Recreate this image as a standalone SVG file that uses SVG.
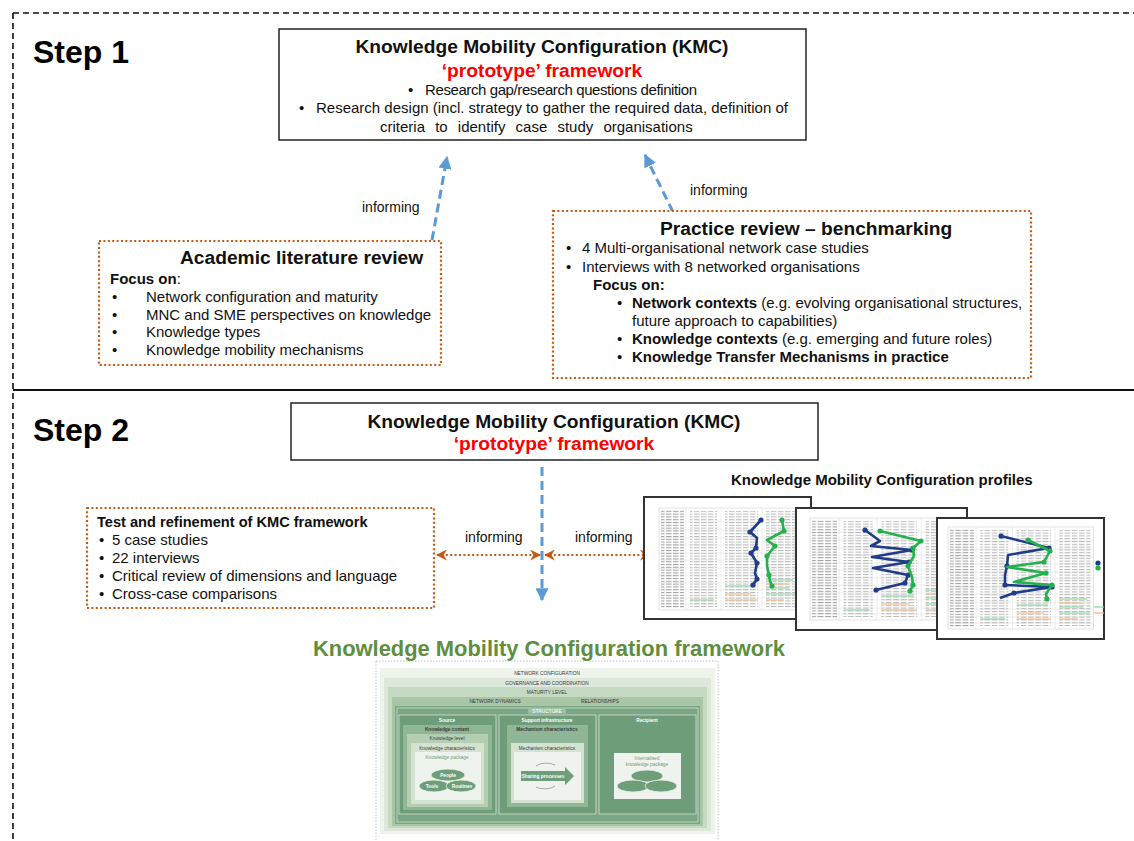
<svg xmlns="http://www.w3.org/2000/svg" xmlns:xlink="http://www.w3.org/1999/xlink" width="1134" height="841" viewBox="0 0 1134 841">
<style>
text{font-family:"Liberation Sans",Arial,sans-serif;fill:#111}
.b{font-weight:bold}
.s14{font-size:14px}
.s15{font-size:15px}
.h18{font-size:19.2px;font-weight:bold}
.red{fill:#FF0000}
.step{font-size:32px;font-weight:bold;fill:#000}
.box{fill:#fff;stroke:#222;stroke-width:1.5}
.obox{fill:#fff;stroke:#C65911;stroke-width:2.2;stroke-dasharray:2 2.4}
.blue{fill:none;stroke:#5B9BD5;stroke-width:3;stroke-dasharray:9 5}
.orng{fill:none;stroke:#C65911;stroke-width:2.2;stroke-dasharray:2 2.4}
.fw{font-size:4.8px;fill:#3a3a3a}
.fww{font-size:4.8px;fill:#fff}
.fwg{font-size:4.8px;fill:#6f9b7a}
.prof{fill:#fff;stroke:#333;stroke-width:2}
.bl{fill:none;stroke:#1F3C88;stroke-width:2.6;stroke-linejoin:round}
.gr{fill:none;stroke:#22B14C;stroke-width:2.6;stroke-linejoin:round}
</style>
<defs>
<marker id="ab" viewBox="0 0 10 10" refX="9" refY="5" markerWidth="13" markerHeight="13" markerUnits="userSpaceOnUse" orient="auto"><path d="M0,0 L10,5 L0,10 z" fill="#5B9BD5"/></marker>
<marker id="ao" viewBox="0 0 10 10" refX="9" refY="5" markerWidth="11" markerHeight="11" markerUnits="userSpaceOnUse" orient="auto-start-reverse"><path d="M0,0 L10,5 L0,10 L3,5 z" fill="#C65911"/></marker>
<pattern id="tx" width="7" height="2.8" patternUnits="userSpaceOnUse"><rect width="5.5" height="1.1" fill="#a0a0a0"/></pattern>
<g id="tbl">
<rect x="0" y="0" width="140" height="102" fill="none" stroke="#d0d0d0" stroke-width="0.6"/>
<path d="M27,0V102M62,0V102M103,0V102M0,14H140M0,22H140M0,30H140M0,37H140M0,45H140M0,52H140M0,60H140M0,67H140M0,75H140M0,82H140M0,90H140M0,96H140" stroke="#dcdcdc" stroke-width="0.5"/>
<rect x="2" y="2" width="23" height="98" fill="url(#tx)" opacity="0.95"/>
<rect x="31" y="3" width="27" height="96" fill="url(#tx)" opacity="0.7"/>
<rect x="66" y="3" width="33" height="96" fill="url(#tx)" opacity="0.7"/>
<rect x="107" y="3" width="30" height="96" fill="url(#tx)" opacity="0.7"/>
<path d="M66,78H96M107,72H134M107,80H130M107,86H136M31,92H55" stroke="#7fd39a" stroke-width="1.2"/>
<path d="M66,86H92M107,76H128M66,92H99M107,92H125" stroke="#f3b37a" stroke-width="1.2"/>
</g>
</defs>

<g id="frame">
<path d="M13,13 H1134" stroke="#111" stroke-width="1.6" stroke-dasharray="6 4" fill="none"/>
<path d="M13,13 V841" stroke="#111" stroke-width="1.6" stroke-dasharray="6 4" fill="none"/>
<path d="M13,390 H1134" stroke="#111" stroke-width="2.2"/>
<text x="33" y="63" class="step">Step 1</text>
<text x="33" y="441" class="step">Step 2</text>
</g>

<g id="connectors">
<path d="M432,240 L447,157" class="blue" marker-end="url(#ab)"/>
<path d="M673,212 L645,155" class="blue" marker-end="url(#ab)"/>
<text x="362" y="212" class="s14">informing</text>
<text x="690" y="195" class="s14">informing</text>
<path d="M542,467 L542,600" class="blue" marker-end="url(#ab)"/>
<path d="M437,555 L540,555" class="orng" marker-start="url(#ao)" marker-end="url(#ao)"/>
<path d="M545,555 L650,555" class="orng" marker-start="url(#ao)" marker-end="url(#ao)"/>
<text x="465" y="542" class="s14">informing</text>
<text x="575" y="542" class="s14">informing</text>
</g>

<g id="kmc-prototype-1">
<rect x="279" y="29" width="527" height="111" class="box"/>
<text x="542" y="53" class="h18" text-anchor="middle">Knowledge Mobility Configuration (KMC)</text>
<text x="542" y="77" class="h18 red" text-anchor="middle">‘prototype’ framework</text>
<text x="408" y="95" class="s15">•</text>
<text x="425" y="95" class="s15" textLength="272" lengthAdjust="spacing">Research gap/research questions definition</text>
<text x="299" y="113" class="s15">•</text>
<text x="316" y="113" class="s15">Research design (incl. strategy to gather the required data, definition of</text>
<text x="380" y="132" class="s15" style="word-spacing:6px">criteria to identify case study organisations</text>
</g>

<g id="academic-review">
<rect x="99" y="241" width="342" height="124" class="obox"/>
<text x="180" y="264" class="h18">Academic literature review</text>
<text x="110" y="284" class="s15"><tspan class="b">Focus on</tspan>:</text>
<text x="112" y="302" class="s15">•</text><text x="146" y="302" class="s15">Network configuration and maturity</text>
<text x="112" y="320" class="s15">•</text><text x="146" y="320" class="s15">MNC and SME perspectives on knowledge</text>
<text x="112" y="337" class="s15">•</text><text x="146" y="337" class="s15">Knowledge types</text>
<text x="112" y="355" class="s15">•</text><text x="146" y="355" class="s15">Knowledge mobility mechanisms</text>
</g>

<g id="practice-review">
<rect x="553" y="211" width="478" height="167" class="obox"/>
<text x="660" y="235" class="h18">Practice review – benchmarking</text>
<text x="566" y="253" class="s15">•</text><text x="582" y="253" class="s15">4 Multi-organisational network case studies</text>
<text x="566" y="272" class="s15">•</text><text x="582" y="272" class="s15">Interviews with 8 networked organisations</text>
<text x="593" y="290" class="s15 b">Focus on:</text>
<text x="617" y="308" class="s15">•</text><text x="632" y="308" class="s15"><tspan class="b">Network contexts</tspan> (e.g. evolving organisational structures,</text>
<text x="632" y="326" class="s15">future approach to capabilities)</text>
<text x="617" y="344" class="s15">•</text><text x="632" y="344" class="s15"><tspan class="b">Knowledge contexts</tspan> (e.g. emerging and future roles)</text>
<text x="617" y="362" class="s15">•</text><text x="632" y="362" class="s15 b">Knowledge Transfer Mechanisms in practice</text>
</g>

<g id="kmc-prototype-2">
<rect x="291" y="403" width="527" height="57" class="box"/>
<text x="554" y="428" class="h18" text-anchor="middle">Knowledge Mobility Configuration (KMC)</text>
<text x="554" y="450" class="h18 red" text-anchor="middle">‘prototype’ framework</text>
</g>

<g id="test-refinement">
<rect x="87" y="508" width="347" height="100" class="obox"/>
<text x="97" y="527" class="b" style="font-size:14.6px">Test and refinement of KMC framework</text>
<text x="99" y="545" class="s15">•</text><text x="112" y="545" class="s15">5 case studies</text>
<text x="99" y="563" class="s15">•</text><text x="112" y="563" class="s15">22 interviews</text>
<text x="99" y="581" class="s15">•</text><text x="112" y="581" class="s15">Critical review of dimensions and language</text>
<text x="99" y="599" class="s15">•</text><text x="112" y="599" class="s15">Cross-case comparisons</text>
</g>

<g id="kmc-profiles">
<text x="731" y="485" class="b" style="font-size:15px">Knowledge Mobility Configuration profiles</text>
<rect x="644" y="497" width="167" height="122" class="prof"/>
<use xlink:href="#tbl" transform="translate(659,508)"/>
<polyline class="bl" points="761,520 750,532 757,538 756,548 751,553 757,563 755,573 757,579 753,585"/>
<g fill="#1F3C88"><circle cx="761" cy="520" r="2.6"/><circle cx="750" cy="532" r="2.6"/><circle cx="756" cy="548" r="2.6"/><circle cx="751" cy="553" r="2.6"/><circle cx="757" cy="563" r="2.6"/><circle cx="757" cy="579" r="2.6"/><circle cx="753" cy="585" r="2.6"/></g>
<polyline class="gr" points="782,520 784,531 767,540 775,546 767,556 767,566 769,575 770,581 772,586"/>
<g fill="#22B14C"><circle cx="782" cy="520" r="2.6"/><circle cx="784" cy="531" r="2.6"/><circle cx="775" cy="546" r="2.6"/><circle cx="767" cy="556" r="2.6"/><circle cx="769" cy="575" r="2.6"/><circle cx="772" cy="586" r="2.6"/></g>

<rect x="796" y="508" width="171" height="122" class="prof"/>
<use xlink:href="#tbl" transform="translate(810,518) scale(1.08,1)"/>
<polyline class="bl" points="865,530 880,541 871,546 912,550 872,557 909,562 873,568 908,575 905,583 876,590"/>
<g fill="#1F3C88"><circle cx="865" cy="530" r="2.6"/><circle cx="912" cy="550" r="2.6"/><circle cx="909" cy="562" r="2.6"/><circle cx="908" cy="575" r="2.6"/><circle cx="905" cy="583" r="2.6"/><circle cx="876" cy="590" r="2.6"/></g>
<polyline class="gr" points="880,531 921,541 913,548 914,556 908,566 912,577 913,585 910,591"/>
<g fill="#22B14C"><circle cx="880" cy="531" r="2.6"/><circle cx="921" cy="541" r="2.6"/><circle cx="913" cy="548" r="2.6"/><circle cx="908" cy="566" r="2.6"/><circle cx="913" cy="585" r="2.6"/><circle cx="910" cy="591" r="2.6"/></g>

<rect x="937" y="518" width="167" height="121" class="prof"/>
<use xlink:href="#tbl" transform="translate(948,527) scale(1.04,1)"/>
<polyline class="bl" points="1001,536 1049,548 1008,555 1007,566 1005,575 1005,585 1052,587 1014,593 1000,598"/>
<g fill="#1F3C88"><circle cx="1001" cy="536" r="2.6"/><circle cx="1049" cy="548" r="2.6"/><circle cx="1007" cy="566" r="2.6"/><circle cx="1005" cy="585" r="2.6"/><circle cx="1052" cy="587" r="2.6"/><circle cx="1014" cy="593" r="2.6"/></g>
<polyline class="gr" points="1028,540 1050,551 1044,562 1007,567 1046,573 1014,582 1052,585 1046,594 1047,599"/>
<g fill="#22B14C"><circle cx="1028" cy="540" r="2.6"/><circle cx="1050" cy="551" r="2.6"/><circle cx="1044" cy="562" r="2.6"/><circle cx="1046" cy="573" r="2.6"/><circle cx="1052" cy="585" r="2.6"/><circle cx="1047" cy="599" r="2.6"/></g>
<circle cx="1098" cy="563" r="2.6" fill="#1F3C88"/><circle cx="1098" cy="568" r="2.6" fill="#22B14C"/>
<path d="M1094,607H1104" stroke="#7fd39a" stroke-width="1.2"/><path d="M1094,613H1104" stroke="#f3b37a" stroke-width="1.2"/>
</g>

<g id="kmc-framework">
<text x="313" y="656" class="b" style="font-size:21.9px;fill:#5E8E3E">Knowledge Mobility Configuration framework</text>
<rect x="376" y="661" width="342" height="190" fill="#fff" stroke="#b5b5b5" stroke-width="0.8" stroke-dasharray="1.5 1.5"/>
<rect x="380" y="668" width="335" height="166" fill="#EEF3EC"/>
<text x="547" y="675" class="fw" text-anchor="middle">NETWORK CONFIGURATION</text>
<rect x="384" y="678" width="327" height="153" fill="#DDE8DA"/>
<text x="547" y="684.5" class="fw" text-anchor="middle">GOVERNANCE AND COORDINATION</text>
<rect x="388" y="687" width="319" height="141" fill="#C6D9C3"/>
<text x="547" y="693.5" class="fw" text-anchor="middle">MATURITY LEVEL</text>
<rect x="392" y="697" width="311" height="129" fill="#A8C5A6"/>
<text x="495" y="703" class="fw" text-anchor="middle">NETWORK DYNAMICS</text>
<text x="600" y="703" class="fw" text-anchor="middle">RELATIONSHIPS</text>
<rect x="395" y="706" width="305" height="118" fill="#7BA685"/>
<rect x="397" y="708" width="301" height="114" fill="none" stroke="#e8f0e8" stroke-width="0.6"/>
<rect x="528" y="708.5" width="38" height="5" fill="#9dc0a3"/>
<text x="547" y="712.6" class="fww" text-anchor="middle">STRUCTURE</text>
<g id="source">
<rect x="399" y="715" width="97" height="99" fill="#6F9C7A" stroke="#f2f6f2" stroke-width="0.6"/>
<text x="447" y="721.5" class="fww b" text-anchor="middle">Source</text>
<rect x="403" y="725" width="89" height="85" fill="#8FB696"/>
<text x="447" y="731" class="fw b" text-anchor="middle">Knowledge content</text>
<rect x="407" y="734" width="81" height="73" fill="#B5CEB3"/>
<text x="447" y="740" class="fw" text-anchor="middle">Knowledge level</text>
<rect x="411" y="743" width="73" height="61" fill="#D4E2D2"/>
<text x="447" y="749.5" class="fw" text-anchor="middle">Knowledge characteristics</text>
<rect x="415" y="752" width="66" height="48" fill="#EFF3EE"/>
<text x="447" y="759" class="fwg" text-anchor="middle">Knowledge package</text>
<ellipse cx="448" cy="775" rx="17" ry="6" fill="#6E9D7A" stroke="#EFF3EE" stroke-width="0.8"/>
<ellipse cx="434" cy="786" rx="15" ry="6" fill="#6E9D7A" stroke="#EFF3EE" stroke-width="0.8"/>
<ellipse cx="461" cy="786" rx="15" ry="6" fill="#6E9D7A" stroke="#EFF3EE" stroke-width="0.8"/>
<text x="448" y="776.5" class="fww b" text-anchor="middle">People</text>
<text x="432" y="787.5" class="fww b" text-anchor="middle">Tools</text>
<text x="462" y="787.5" class="fww b" text-anchor="middle">Routines</text>
</g>
<g id="support">
<rect x="499" y="715" width="97" height="99" fill="#6F9C7A" stroke="#f2f6f2" stroke-width="0.6"/>
<text x="547" y="721.5" class="fww b" text-anchor="middle">Support infrastructure</text>
<rect x="507" y="725" width="81" height="82" fill="#8FB696"/>
<text x="547" y="731" class="fw b" text-anchor="middle">Mechanism characteristics</text>
<rect x="511" y="743" width="73" height="60" fill="#D4E2D2"/>
<text x="547" y="749.5" class="fw" text-anchor="middle">Mechanism characteristics</text>
<rect x="514" y="752" width="67" height="48" fill="#EFF3EE"/>
<path d="M536,766 A12,6 0 0 1 555,765" fill="none" stroke="#777" stroke-width="0.6"/>
<path d="M555,786 A12,6 0 0 1 536,787" fill="none" stroke="#777" stroke-width="0.6"/>
<path d="M521,771 H565 V767 L574,776 L565,785 V781 H521 Z" fill="#6E9D7A"/>
<text x="543" y="777.5" class="fww b" text-anchor="middle">Sharing processes</text>
</g>
<g id="recipient">
<rect x="599" y="715" width="97" height="99" fill="#6F9C7A" stroke="#f2f6f2" stroke-width="0.6"/>
<text x="647" y="721.5" class="fww b" text-anchor="middle">Recipient</text>
<rect x="614" y="753" width="67" height="46" fill="#EFF3EE"/>
<text x="647" y="760" class="fwg" text-anchor="middle">Internalised</text>
<text x="647" y="765.5" class="fwg" text-anchor="middle">knowledge package</text>
<ellipse cx="647" cy="776" rx="16" ry="6" fill="#6E9D7A" stroke="#EFF3EE" stroke-width="0.8"/>
<ellipse cx="633" cy="786" rx="16" ry="6" fill="#6E9D7A" stroke="#EFF3EE" stroke-width="0.8"/>
<ellipse cx="661" cy="786" rx="16" ry="6" fill="#6E9D7A" stroke="#EFF3EE" stroke-width="0.8"/>
</g>
</g>
</svg>
